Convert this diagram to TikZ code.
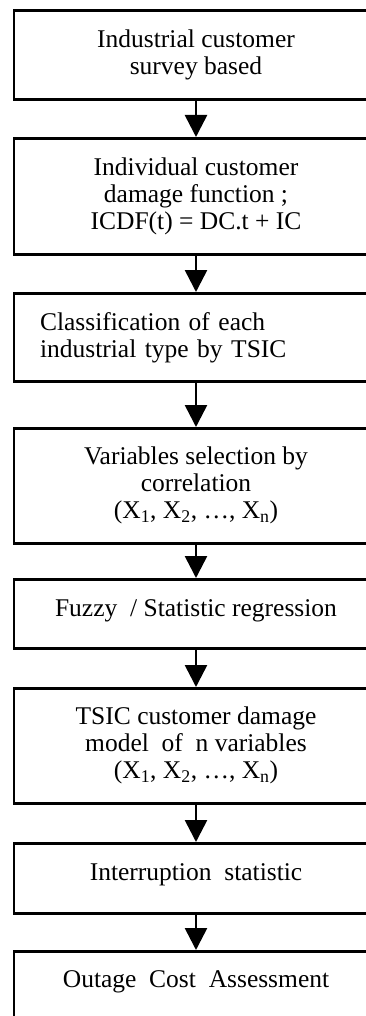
\documentclass[tikz,border=0pt]{standalone}
\usepackage{fontspec}
\setmainfont{Liberation Serif}
\usetikzlibrary{arrows.meta}
\begin{document}
\begin{tikzpicture}[x=1pt,y=-1pt,
  stepbox/.style={draw=black, line width=2.6pt, minimum width=364pt, inner sep=0pt,
    align=center, font=\fontsize{25.5}{27}\selectfont, anchor=north},
  leftbox/.style={stepbox, align=left, text width=312pt, inner xsep=26pt},
  flow/.style={line width=2.6pt, -{Triangle[length=22pt,width=22pt]}}]
\fill[white] (0,0) rectangle (366,1016);
\useasboundingbox (0,0) rectangle (366,1016);
\node[stepbox, minimum height=89pt] (b1) at (196,9) {Industrial customer\\survey based};
\node[stepbox, minimum height=116pt] (b2) at (196,137) {Individual customer\\damage function ;\\ICDF(t) = DC.t + IC};
\node[leftbox, minimum height=88pt] (b3) at (196,292) {Classification of each\\industrial type by TSIC};
\node[stepbox, minimum height=115pt] (b4) at (196,427) {Variables selection by\\correlation\\(X\textsubscript{1}, X\textsubscript{2}, …, X\textsubscript{n})};
\node[stepbox, minimum height=69pt, text depth=12pt] (b5) at (196,578) {Fuzzy \ / Statistic regression};
\node[stepbox, minimum height=115pt] (b6) at (196,687) {TSIC customer damage\\model \ of \ n variables\\(X\textsubscript{1}, X\textsubscript{2}, …, X\textsubscript{n})};
\node[stepbox, minimum height=70pt, text depth=13pt] (b7) at (196,842) {Interruption \ statistic};
\node[stepbox, minimum height=80pt, text depth=24pt] (b8) at (196,950) {Outage \ Cost \ Assessment};
\draw[flow] (b1) -- (b2);
\draw[flow] (b2) -- (b3);
\draw[flow] (b3) -- (b4);
\draw[flow] (b4) -- (b5);
\draw[flow] (b5) -- (b6);
\draw[flow] (b6) -- (b7);
\draw[flow] (b7) -- (b8);
\end{tikzpicture}
\end{document}
